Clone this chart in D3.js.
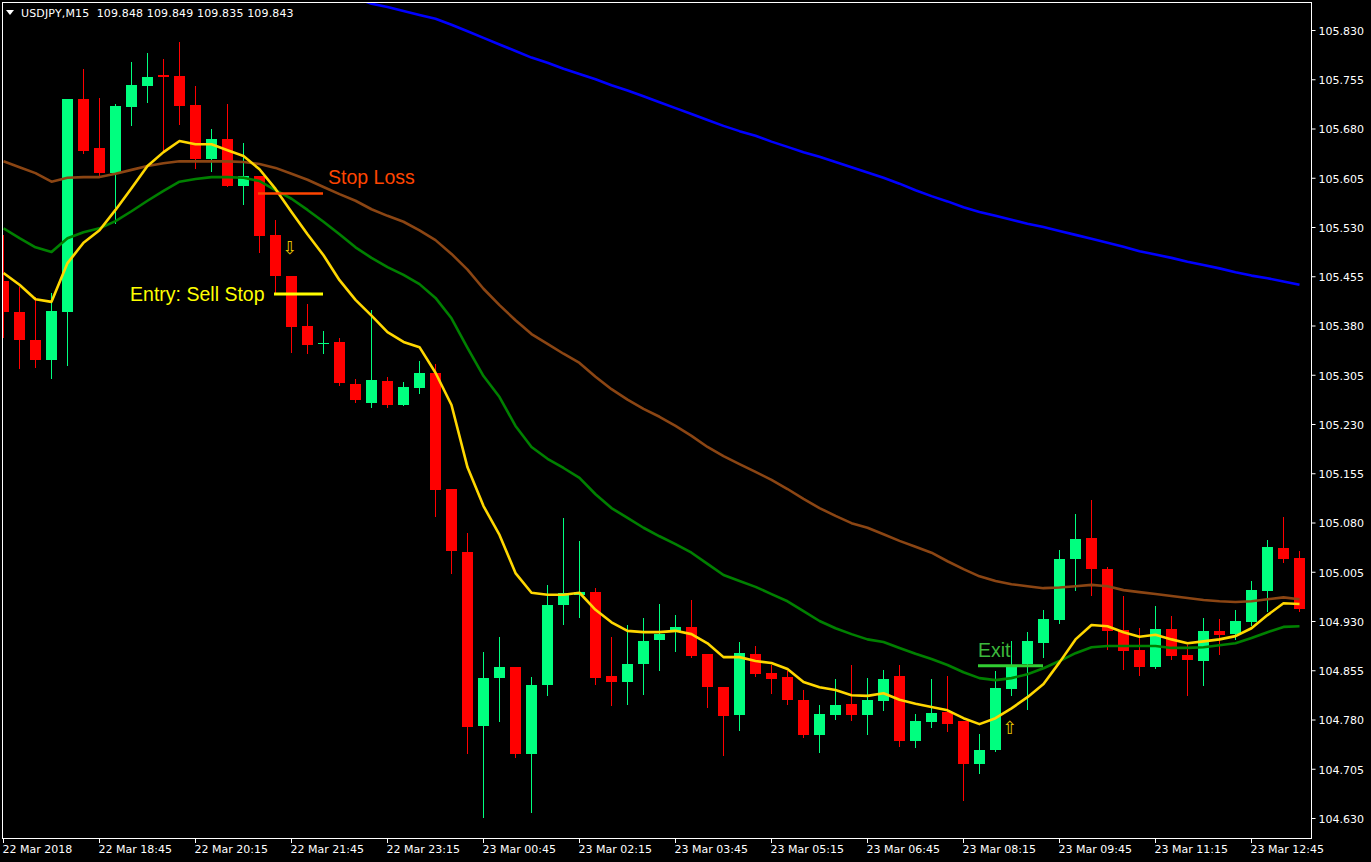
<!DOCTYPE html>
<html><head><meta charset="utf-8">
<script src="https://cdn.jsdelivr.net/npm/d3@7"></script>
<style>
html,body{margin:0;padding:0;background:#000;overflow:hidden}
svg{display:block}
</style></head><body>
<svg id="chart" width="1371" height="862"></svg>
<script>
// ---- DATA (USDJPY M15, bars from 22 Mar 17:15) ----
const opens = [105.448,105.401,105.358,105.327,105.401,105.725,105.650,105.612,105.713,105.745,
105.762,105.760,105.716,105.634,105.664,105.592,105.608,105.518,105.455,105.379,
105.353,105.355,105.291,105.262,105.295,105.259,105.285,105.308,105.131,105.035,
104.770,104.843,104.860,104.727,104.833,104.954,104.970,104.974,104.846,104.837,
104.864,104.901,104.915,104.921,104.880,104.829,104.787,104.880,104.851,104.845,
104.810,104.756,104.787,104.804,104.787,104.808,104.846,104.747,104.776,104.791,
104.778,104.712,104.733,104.826,104.864,104.896,104.932,105.024,105.056,105.009,
104.916,104.886,104.860,104.918,104.878,104.869,104.915,104.910,104.928,104.976,
105.041,105.026];
const highs = [105.518,105.439,105.423,105.430,105.725,105.771,105.726,105.717,105.781,105.795,
105.786,105.812,105.745,105.679,105.717,105.658,105.608,105.541,105.455,105.413,
105.372,105.361,105.299,105.404,105.301,105.294,105.326,105.321,105.131,105.064,
104.883,104.906,104.860,104.845,104.985,105.087,105.052,104.980,104.906,104.924,
104.934,104.956,104.939,104.962,104.880,104.829,104.898,104.892,104.863,104.854,
104.825,104.802,104.842,104.863,104.843,104.855,104.863,104.788,104.842,104.846,
104.778,104.758,104.854,104.899,104.913,104.947,105.038,105.093,105.114,105.012,
104.968,104.919,104.953,104.938,104.893,104.934,104.933,104.947,104.991,105.053,
105.088,105.037];
const lows = [105.362,105.315,105.317,105.300,105.320,105.643,105.608,105.536,105.685,105.720,
105.644,105.687,105.620,105.615,105.592,105.565,105.492,105.430,105.340,105.338,
105.338,105.289,105.264,105.256,105.256,105.259,105.277,105.090,105.003,104.729,
104.631,104.778,104.723,104.639,104.817,104.925,104.936,104.834,104.802,104.804,
104.819,104.855,104.884,104.875,104.799,104.726,104.764,104.846,104.820,104.804,
104.753,104.730,104.781,104.779,104.758,104.794,104.740,104.738,104.768,104.762,
104.657,104.698,104.732,104.817,104.796,104.875,104.927,104.977,104.970,104.887,
104.857,104.848,104.858,104.872,104.817,104.833,104.880,104.902,104.924,104.945,
105.020,104.945];
const closes = [105.401,105.358,105.327,105.402,105.725,105.646,105.612,105.714,105.746,105.758,
105.758,105.714,105.634,105.664,105.592,105.608,105.516,105.455,105.378,105.350,
105.354,105.292,105.267,105.297,105.259,105.286,105.308,105.129,105.037,104.768,
104.843,104.860,104.727,104.833,104.954,104.973,104.974,104.843,104.837,104.864,
104.899,104.910,104.921,104.877,104.829,104.785,104.881,104.849,104.842,104.810,
104.756,104.788,104.802,104.787,104.810,104.842,104.747,104.778,104.790,104.773,
104.712,104.733,104.828,104.861,104.899,104.933,105.024,105.055,105.009,104.915,
104.884,104.860,104.918,104.877,104.871,104.915,104.909,104.930,104.977,105.043,
105.024,104.948];

// moving averages
const maYellow = [105.460,105.442,105.420,105.416,105.475,105.506,105.525,105.556,105.589,105.623,
105.644,105.661,105.656,105.656,105.647,105.638,105.618,105.588,105.553,105.519,
105.487,105.449,105.419,105.395,105.370,105.355,105.347,105.308,105.259,105.164,
105.105,105.061,105.003,104.973,104.970,104.970,104.973,104.947,104.928,104.915,
104.913,104.913,104.915,104.910,104.896,104.875,104.875,104.869,104.866,104.857,
104.837,104.829,104.825,104.817,104.816,104.820,104.810,104.804,104.799,104.794,
104.782,104.773,104.782,104.797,104.814,104.834,104.867,104.902,104.924,104.922,
104.913,104.906,104.909,104.902,104.896,104.899,104.902,104.907,104.919,104.939,
104.957,104.956];
const maGreen = [105.528,105.513,105.499,105.492,105.513,105.522,105.528,105.539,105.554,105.570,
105.585,105.599,105.603,105.606,105.606,105.605,105.600,105.586,105.573,105.556,
105.538,105.519,105.499,105.483,105.469,105.457,105.443,105.422,105.391,105.346,
105.303,105.271,105.227,105.195,105.177,105.163,105.148,105.123,105.102,105.087,
105.072,105.059,105.047,105.034,105.017,105.000,104.991,104.982,104.971,104.960,
104.945,104.930,104.919,104.910,104.902,104.898,104.889,104.880,104.872,104.863,
104.852,104.843,104.840,104.843,104.849,104.858,104.869,104.881,104.890,104.892,
104.892,104.892,104.892,104.889,104.889,104.890,104.893,104.896,104.904,104.913,
104.921,104.922];
const maBrown = [105.630,105.621,105.612,105.599,105.605,105.606,105.606,105.611,105.617,105.623,
105.627,105.630,105.630,105.630,105.630,105.629,105.626,105.620,105.611,105.602,
105.591,105.580,105.570,105.557,105.547,105.538,105.525,105.510,105.489,105.465,
105.436,105.411,105.388,105.367,105.352,105.337,105.323,105.302,105.283,105.267,
105.253,105.241,105.227,105.212,105.195,105.181,105.169,105.157,105.145,105.131,
105.116,105.102,105.090,105.079,105.072,105.062,105.052,105.043,105.034,105.021,
105.009,104.998,104.991,104.986,104.983,104.980,104.981,104.983,104.985,104.983,
104.977,104.974,104.971,104.968,104.965,104.962,104.960,104.959,104.960,104.963,
104.966,104.963];
const maBlue = [null,null,null,null,null,null,null,null,null,null,
null,null,null,null,null,null,null,null,null,null,null,null,
105.879,105.870,105.865,105.859,105.853,105.847,105.838,105.828,105.818,105.808,
105.798,105.788,105.780,105.771,105.763,105.755,105.746,105.738,105.729,105.720,
105.711,105.702,105.693,105.684,105.676,105.669,105.660,105.652,105.644,105.637,
105.629,105.621,105.613,105.605,105.596,105.586,105.577,105.569,105.560,105.553,
105.547,105.541,105.535,105.530,105.524,105.518,105.512,105.506,105.500,105.493,
105.488,105.483,105.477,105.472,105.467,105.461,105.456,105.452,105.447,105.442];

const priceTicks = [105.830,105.755,105.680,105.605,105.530,105.455,105.380,105.305,105.230,
105.155,105.080,105.005,104.930,104.855,104.780,104.705,104.630];
const timeTickIdx = [0,6,12,18,24,30,36,42,48,54,60,66,72,78];
const timeTickLabels = ["22 Mar 2018","22 Mar 18:45","22 Mar 20:15","22 Mar 21:45","22 Mar 23:15",
"23 Mar 00:45","23 Mar 02:15","23 Mar 03:45","23 Mar 05:15","23 Mar 06:45","23 Mar 08:15",
"23 Mar 09:45","23 Mar 11:15","23 Mar 12:45"];
const headerText = "USDJPY,M15  109.848 109.849 109.835 109.843";

// annotations
const levelLabels = ["Stop Loss","Entry: Sell Stop","Exit"];
const levelPrices = [105.581, 105.428, 104.862];
const levelFrom = [16, 17, 61];
const levelTo = [20, 20, 65];
const arrowIdx = [18, 63];
const arrowPrices = [105.499, 104.768];
const arrowGlyphs = ["\u21E9", "\u21E7"];

// ---- DRAW ----
const svg = d3.select("#chart");
const L = 2.5, T = 2.5, R = 1311.5, B = 838.5;
const x = d3.scaleLinear().domain([0, opens.length - 1]).range([3.5, 3.5 + 16 * (opens.length - 1)]);
const y = d3.scaleLinear().domain([104.630, 105.830]).range([818, 30]);

svg.append("rect").attr("width", 1371).attr("height", 862).attr("fill", "#000");

svg.append("defs").append("clipPath").attr("id", "plotclip")
  .append("rect").attr("x", 3).attr("y", 3).attr("width", R - 3.5).attr("height", B - 3.5);

const plot = svg.append("g").attr("clip-path", "url(#plotclip)");

const bars = d3.range(opens.length);
const GREEN = "#00FF7F", RED = "#FF0000";
const col = i => closes[i] >= opens[i] ? GREEN : RED;

// wicks
plot.append("g").attr("shape-rendering", "crispEdges").selectAll("rect").data(bars).join("rect")
  .attr("x", i => x(i) - 0.5).attr("width", 1)
  .attr("y", i => Math.round(y(highs[i])))
  .attr("height", i => Math.max(1, Math.round(y(lows[i])) - Math.round(y(highs[i])) + 1))
  .attr("fill", col);
// bodies
plot.append("g").attr("shape-rendering", "crispEdges").selectAll("rect").data(bars).join("rect")
  .attr("x", i => x(i) - 5.5).attr("width", 11)
  .attr("y", i => Math.round(y(Math.max(opens[i], closes[i]))))
  .attr("height", i => Math.max(1, Math.round(y(Math.min(opens[i], closes[i]))) - Math.round(y(Math.max(opens[i], closes[i])))))
  .attr("fill", col);

// moving averages
const line = d3.line().defined(d => d != null).x((d, i) => x(i)).y(d => y(d));
[[maBlue, "#0000FF"], [maBrown, "#8B4513"], [maGreen, "#008000"], [maYellow, "#FFD700"]].forEach(([s, c]) => {
  plot.append("path").datum(s).attr("d", line).attr("fill", "none")
    .attr("stroke", c).attr("stroke-width", 2.6).attr("stroke-linejoin", "round");
});

// annotation lines + labels
const levelColors = ["#FF4500", "#FFFF00", "#32CD32"];
const levelWidths = [2.5, 3, 3];
levelLabels.forEach((lab, k) => {
  plot.append("line")
    .attr("x1", x(levelFrom[k]) - 1.5).attr("x2", x(levelTo[k]) - 0.5)
    .attr("y1", y(levelPrices[k])).attr("y2", y(levelPrices[k]))
    .attr("stroke", levelColors[k]).attr("stroke-width", levelWidths[k]);
});
const tfont = "'Liberation Sans', Arial, sans-serif";
plot.append("text").attr("x", x(levelTo[0]) + 4.5).attr("y", y(levelPrices[0]) - 10)
  .attr("fill", levelColors[0]).attr("font-family", tfont).attr("font-size", 19.5).text(levelLabels[0]);
plot.append("text").attr("x", x(levelFrom[1]) - 11).attr("y", y(levelPrices[1]) + 7.5)
  .attr("text-anchor", "end")
  .attr("fill", levelColors[1]).attr("font-family", tfont).attr("font-size", 19.5).text(levelLabels[1]);
plot.append("text").attr("x", x(levelFrom[2]) - 1.5).attr("y", y(levelPrices[2]) - 9)
  .attr("fill", "#3CB83C").attr("font-family", tfont).attr("font-size", 19.5).text(levelLabels[2]);

// arrows
arrowIdx.forEach((ai, k) => {
  plot.append("text").attr("x", x(ai) - 1.5).attr("y", y(arrowPrices[k]))
    .attr("text-anchor", "middle").attr("dominant-baseline", "central")
    .attr("fill", "#E6C300").attr("font-family", "'DejaVu Sans', sans-serif").attr("font-size", 18)
    .text(arrowGlyphs[k]);
});

// frame
svg.append("path")
  .attr("d", `M${L},${B}V${T}H${R}V${B}H${L}`)
  .attr("fill", "none").attr("stroke", "#FFFFFF").attr("stroke-width", 1).attr("shape-rendering", "crispEdges");

const afont = "'DejaVu Sans', sans-serif";
// price axis
const yAxis = d3.axisRight(y).tickValues(priceTicks).tickSize(4).tickPadding(3).tickFormat(d3.format(".3f"));
const gy = svg.append("g").attr("transform", `translate(${R},0)`).call(yAxis);
gy.select(".domain").remove();
gy.selectAll("line").attr("stroke", "#FFFFFF");
gy.selectAll("text").attr("fill", "#FFFFFF").attr("font-family", afont).attr("font-size", 11).attr("dy", "0.4em");

// time axis
const xAxis = d3.axisBottom(x).tickValues(timeTickIdx).tickSize(4).tickPadding(3).offset(0)
  .tickFormat((d, k) => timeTickLabels[k]);
const gx = svg.append("g").attr("transform", `translate(0,${B})`).call(xAxis);
gx.select(".domain").remove();
gx.selectAll("line").attr("stroke", "#FFFFFF").attr("shape-rendering", "crispEdges");
gx.selectAll("text").attr("fill", "#FFFFFF").attr("font-family", afont).attr("font-size", 11)
  .attr("text-anchor", "start").attr("x", -1);

// header
svg.append("path").attr("d", "M6,10L14,10L10,15Z").attr("fill", "#FFFFFF");
svg.append("text").attr("x", 21).attr("y", 16.5).attr("fill", "#FFFFFF")
  .style("white-space", "pre").attr("xml:space", "preserve")
  .attr("font-family", afont).attr("font-size", 11).attr("letter-spacing", 0.15).text(headerText);
</script>
</body></html>
